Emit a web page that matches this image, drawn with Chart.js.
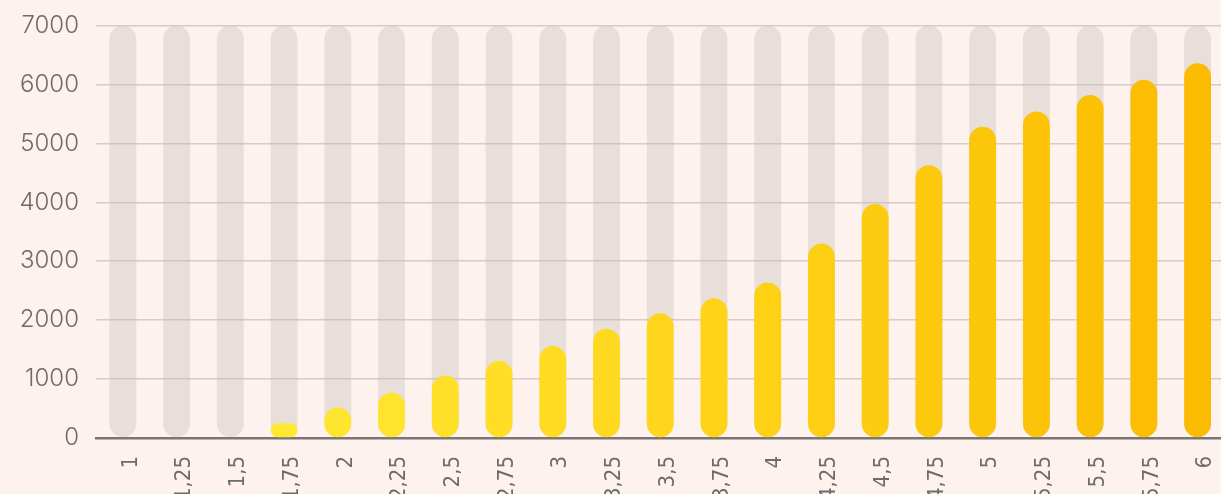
<!DOCTYPE html>
<html>
<head>
<meta charset="utf-8">
<script src="https://cdn.jsdelivr.net/npm/chart.js@4.4.1/dist/chart.umd.min.js"></script>
<style>
  html, body { margin: 0; padding: 0; background: #fdf2ee; overflow: hidden; }
  #wrap { position: relative; width: 1242px; height: 494px; }
</style>
</head>
<body>
<div id="wrap"><canvas id="c"></canvas></div>
<script>
const categories = ['1','1,25','1,5','1,75','2','2,25','2,5','2,75','3','3,25','3,5','3,75','4','4,25','4,5','4,75','5','5,25','5,5','5,75','6'];
const seriesValues = [0,0,0,250,520,770,1060,1310,1560,1855,2115,2370,2640,3300,3970,4630,5280,5540,5820,6080,6360];
const trackValues = [7000,7000,7000,7000,7000,7000,7000,7000,7000,7000,7000,7000,7000,7000,7000,7000,7000,7000,7000,7000,7000];
const yTicks = [0,1000,2000,3000,4000,5000,6000,7000];

function barColor(i, n) {
  const a = [255,239,60], m = [255,212,24], b = [250,187,0];
  const t = i / (n - 1);
  let c;
  if (t < 0.55) { const u = t / 0.55; c = a.map((v,k)=>Math.round(v + (m[k]-v)*u)); }
  else { const u = (t-0.55)/0.45; c = m.map((v,k)=>Math.round(v + (b[k]-v)*u)); }
  return `rgb(${c[0]},${c[1]},${c[2]})`;
}
const colors = categories.map((_, i) => barColor(i, categories.length));

new Chart(document.getElementById('c'), {
  type: 'bar',
  data: {
    labels: categories,
    datasets: [
      {
        data: seriesValues,
        backgroundColor: colors,
        borderRadius: 14,
        borderSkipped: false,
        categoryPercentage: 1,
        barPercentage: 0.5,
        grouped: false,
        order: 0
      },
      {
        data: trackValues,
        backgroundColor: 'rgba(190,185,180,0.32)',
        borderRadius: 14,
        borderSkipped: false,
        categoryPercentage: 1,
        barPercentage: 0.5,
        grouped: false,
        order: 1
      }
    ]
  },
  options: {
    responsive: true,
    maintainAspectRatio: false,
    animation: false,
    devicePixelRatio: 1,
    layout: { padding: { top: 25.5, right: 0, left: 0, bottom: 0 } },
    plugins: { legend: { display: false }, tooltip: { enabled: false } },
    scales: {
      x: {
        z: 1,
        grid: { display: false, drawTicks: false },
        border: { display: true, color: '#7a7572', width: 2.5 },
        ticks: {
          color: '#6f6b69',
          font: { family: "'Liberation Sans Narrow', 'DejaVu Sans Condensed', sans-serif", size: 22 },
          minRotation: 90, maxRotation: 90,
          padding: 18,
          labelOffset: 8,
          autoSkip: false
        },
        afterFit: (s) => { s.height = 56; }
      },
      y: {
        min: 0, max: 7000,
        afterBuildTicks: (s) => { s.ticks = yTicks.map(v => ({ value: v })); },
        grid: { color: 'rgba(150,130,120,0.35)', lineWidth: 1.5, drawTicks: false },
        border: { display: false },
        ticks: {
          color: '#6f6b69',
          font: { family: "Inter, 'DejaVu Sans', sans-serif", size: 24, weight: 300 },
          padding: 17,
          callback: (v) => String(v)
        },
        afterFit: (s) => { s.width = 96; s.paddingTop = 12; s.paddingBottom = 12; }
      }
    }
  }
});
</script>
</body>
</html>
